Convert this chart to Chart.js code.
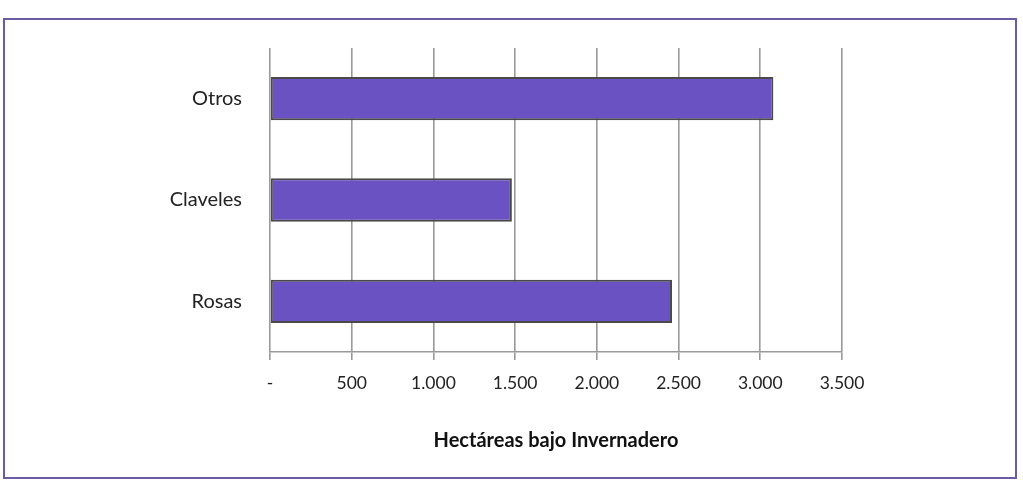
<!DOCTYPE html>
<html>
<head>
<meta charset="utf-8">
<script src="https://cdn.jsdelivr.net/npm/chart.js@4/dist/chart.umd.min.js"></script>
<style>
  html, body { margin: 0; padding: 0; background: #fff; }
  #wrap { position: relative; width: 1023px; height: 482px; overflow: hidden; }
  #frame { position: absolute; left: 3px; top: 18px; width: 1010px; height: 457px;
           border: 2px solid #6b5ba3; }
  #chart { position: absolute; left: 0; top: 0; }
</style>
</head>
<body>
<div id="wrap">
  <div id="frame"></div>
  <canvas id="chart" width="1023" height="482"></canvas>
</div>
<script>
// Hectáreas bajo invernadero por cultivo
const categories = ['Otros', 'Claveles', 'Rosas'];
const hectareas = [3080, 1480, 2460];
const xTickLabels = ['-', '500', '1.000', '1.500', '2.000', '2.500', '3.000', '3.500'];
const axisTitle = 'Hectáreas bajo Invernadero';

const font = 'Lato, "Open Sans", sans-serif';

new Chart(document.getElementById('chart'), {
  type: 'bar',
  data: {
    labels: categories,
    datasets: [{
      data: hectareas,
      backgroundColor: '#6a52c2',
      borderColor: '#4a4a4a',
      borderWidth: 2,
      borderSkipped: false,
      barPercentage: 0.61,
      categoryPercentage: 0.7
    }]
  },
  options: {
    indexAxis: 'y',
    responsive: false,
    animation: false,
    layout: { padding: { left: 0, top: 48, right: 181, bottom: 25 } },
    plugins: { legend: { display: false }, tooltip: { enabled: false } },
    scales: {
      x: {
        min: 0, max: 3500,
        ticks: {
          stepSize: 500, padding: 13, color: '#222',
          font: { family: font, size: 17.5 },
          callback: (v, i) => xTickLabels[i]
        },
        grid: { color: '#999', lineWidth: 1.6, tickLength: 8 },
        border: { color: '#999', width: 1.6 },
        title: { display: true, text: axisTitle, color: '#111',
                 font: { family: font, size: 20, weight: 'bold' } },
        afterFit: (s) => { s.height = 105; }
      },
      y: {
        ticks: { padding: 20, color: '#222', font: { family: font, size: 20 } },
        grid: { display: false },
        border: { display: false },
        afterFit: (s) => { s.width = 270; }
      }
    }
  }
});
</script>
</body>
</html>
